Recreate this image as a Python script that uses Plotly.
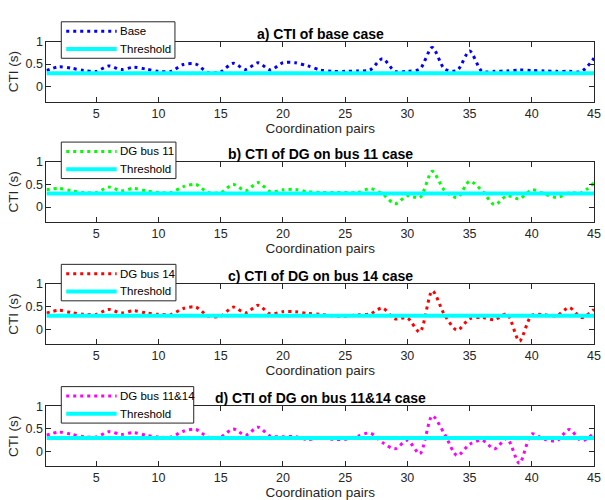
import plotly.graph_objects as go

pairs = list(range(1, 46))
base = [0.36, 0.44, 0.41, 0.36, 0.34, 0.46, 0.38, 0.43, 0.39, 0.34, 0.34, 0.49, 0.50, 0.31, 0.33,
        0.52, 0.38, 0.53, 0.37, 0.53, 0.53, 0.46, 0.37, 0.34, 0.34, 0.35, 0.37, 0.62, 0.34, 0.34,
        0.39, 0.87, 0.39, 0.36, 0.79, 0.34, 0.34, 0.35, 0.37, 0.36, 0.35, 0.34, 0.34, 0.34, 0.63]
dg11 = [0.38, 0.41, 0.36, 0.32, 0.32, 0.44, 0.36, 0.41, 0.36, 0.32, 0.32, 0.45, 0.50, 0.32, 0.32,
        0.50, 0.36, 0.54, 0.34, 0.38, 0.39, 0.34, 0.32, 0.32, 0.32, 0.32, 0.41, 0.29, 0.07, 0.25,
        0.21, 0.79, 0.36, 0.21, 0.57, 0.36, 0.05, 0.25, 0.18, 0.38, 0.29, 0.21, 0.31, 0.32, 0.54]
dg14 = [0.36, 0.42, 0.37, 0.33, 0.33, 0.44, 0.36, 0.41, 0.36, 0.33, 0.33, 0.46, 0.49, 0.29, 0.29,
        0.49, 0.36, 0.53, 0.34, 0.39, 0.39, 0.35, 0.33, 0.30, 0.29, 0.32, 0.34, 0.47, 0.23, 0.25,
        -0.06, 0.85, 0.31, -0.02, 0.23, 0.26, 0.21, 0.34, -0.26, 0.31, 0.32, 0.30, 0.48, 0.26, 0.44]
dg1114 = [0.36, 0.43, 0.38, 0.33, 0.32, 0.44, 0.38, 0.42, 0.36, 0.32, 0.32, 0.45, 0.49, 0.32, 0.32,
          0.50, 0.36, 0.54, 0.34, 0.33, 0.33, 0.26, 0.31, 0.27, 0.27, 0.34, 0.41, 0.20, 0.06, 0.25,
          -0.05, 0.79, 0.38, -0.09, 0.16, 0.25, 0.06, 0.29, -0.26, 0.39, 0.27, 0.24, 0.49, 0.24, 0.41]
THRESHOLD = 0.3

series_names = ["Base", "DG bus 11", "DG bus 14", "DG bus 11&14"]
series_values = [base, dg11, dg14, dg1114]
series_colors = ["#0000FF", "#00FF00", "#FF0000", "#FF00FF"]
titles = ["a) CTI of base case", "b) CTI of DG on bus 11 case",
          "c) CTI of DG on bus 14 case", "d) CTI of DG on bus 11&14 case"]
x_ticks = [5, 10, 15, 20, 25, 30, 35, 40, 45]
y_ticks = [0, 0.5, 1]

W, H = 605, 500
box_tops = [35, 157, 281, 405]
box_h = 61
left_px, right_px = 47, 601
legend_right = [177, 178, 178, 196]

FONT = "Liberation Sans, Arial, sans-serif"
AX = "#262626"
DOT = "3px,4px"

fig = go.Figure()
layout = dict(
    width=W, height=H,
    margin=dict(l=0, r=0, t=0, b=0),
    paper_bgcolor="white", plot_bgcolor="white",
    font=dict(family=FONT, size=12, color=AX),
    showlegend=False,
    annotations=[], shapes=[],
)

def px_x(p):
    return p / W

def px_y(p):
    return 1 - p / H

for i in range(4):
    top = box_tops[i]
    bot = top + box_h
    sfx = "" if i == 0 else str(i + 1)
    fig.add_trace(go.Scatter(
        x=pairs, y=series_values[i], mode="lines", name=series_names[i],
        line=dict(color=series_colors[i], width=3, dash=DOT, shape="spline", smoothing=0.8),
        xaxis="x" + sfx, yaxis="y" + sfx))
    fig.add_trace(go.Scatter(
        x=[pairs[0], pairs[-1]], y=[THRESHOLD, THRESHOLD], mode="lines", name="Threshold",
        line=dict(color="#00FFFF", width=4),
        xaxis="x" + sfx, yaxis="y" + sfx))
    layout["xaxis" + sfx] = dict(
        domain=[px_x(left_px), px_x(right_px)], range=[1, 45], anchor="y" + sfx,
        tickvals=x_ticks, ticks="inside", ticklen=5, tickcolor=AX,
        showline=True, linecolor=AX, linewidth=1, mirror="ticks", showgrid=False, zeroline=False,
        tickfont=dict(size=12.5, color=AX), ticklabeloverflow="allow",
        title=dict(text="Coordination pairs", font=dict(size=13.5, color=AX), standoff=1))
    layout["yaxis" + sfx] = dict(
        domain=[px_y(bot), px_y(top)], range=[-0.33, 1], anchor="x" + sfx,
        tickvals=y_ticks, ticktext=["0", "0.5", "1"], ticks="inside", ticklen=5, tickcolor=AX,
        showline=True, linecolor=AX, linewidth=1, mirror="ticks", showgrid=False, zeroline=False,
        tickfont=dict(size=12.5, color=AX),
        title=dict(text="CTI (s)", font=dict(size=13.5, color=AX), standoff=3))
    # title
    layout["annotations"].append(dict(
        text="<b>" + titles[i] + "</b>", x=px_x((left_px + right_px) / 2), y=px_y(top - 8),
        xref="paper", yref="paper", showarrow=False, xanchor="center", yanchor="middle",
        font=dict(size=14, color="black", family=FONT)))
    # legend box
    lt, lb = top - 20, top + 17
    lr = legend_right[i]
    layout["shapes"].append(dict(
        type="rect", xref="paper", yref="paper", x0=px_x(62), x1=px_x(lr), y0=px_y(lb), y1=px_y(lt),
        line=dict(color=AX, width=1), fillcolor="white", layer="above"))
    row1, row2 = lt + 9.5, lt + 27.5
    layout["shapes"].append(dict(
        type="line", xref="paper", yref="paper", x0=px_x(67), x1=px_x(118), y0=px_y(row1), y1=px_y(row1),
        line=dict(color=series_colors[i], width=3, dash=DOT), layer="above"))
    layout["shapes"].append(dict(
        type="line", xref="paper", yref="paper", x0=px_x(67), x1=px_x(118), y0=px_y(row2), y1=px_y(row2),
        line=dict(color="#00FFFF", width=4), layer="above"))
    for txt, ry in ((series_names[i], row1), ("Threshold", row2)):
        layout["annotations"].append(dict(
            text=txt, x=px_x(119), y=px_y(ry), xref="paper", yref="paper", showarrow=False,
            xanchor="left", yanchor="middle", font=dict(size=11.5, color="black", family=FONT)))

fig.update_layout(**layout)
fig.write_html("out.html")
